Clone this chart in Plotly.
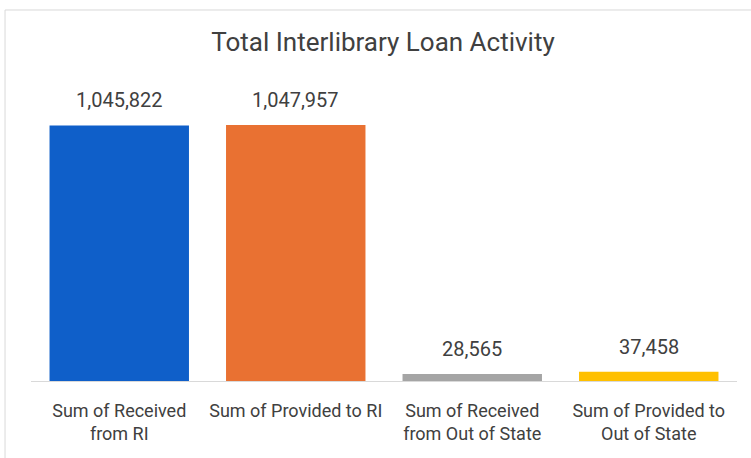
import plotly.graph_objects as go

categories = ["Sum of Received<br>from RI", "Sum of Provided to RI",
              "Sum of Received<br>from Out of State", "Sum of Provided to<br>Out of State"]
values = [1045822, 1047957, 28565, 37458]
colors = ["#0F5FC9", "#E97132", "#A5A5A5", "#FFC000"]
labels = [f"{v:,}" for v in values]

FONT = "Roboto"
TXT = "#404040"

fig = go.Figure(go.Bar(x=categories, y=values, marker=dict(color=colors, line=dict(width=0)),
                       hoverinfo="skip"))

for c, v, t in zip(categories, values, labels):
    fig.add_annotation(x=c, y=v, text=t, showarrow=False, yanchor="bottom", yshift=11,
                       font=dict(family=FONT, size=20, color=TXT))

fig.update_layout(
    width=751, height=458,
    margin=dict(l=31, r=14, t=80, b=77),
    paper_bgcolor="white", plot_bgcolor="white",
    bargap=0.21,
    showlegend=False,
    title=dict(text="Total Interlibrary Loan Activity", x=383 / 751, xanchor="center",
               y=1 - 42 / 458, yanchor="middle",
               font=dict(family=FONT, size=26, color=TXT)),
    xaxis=dict(showline=True, linecolor="#D9D9D9", linewidth=1, ticks="",
               ticklabelstandoff=13,
               tickfont=dict(family=FONT, size=18, color=TXT), showgrid=False,
               fixedrange=True),
    yaxis=dict(range=[0, 1232000], visible=False, showgrid=False, zeroline=False,
               fixedrange=True),
)

# outer chart border (partially visible in the crop)
fig.add_shape(type="rect", xref="paper", yref="paper",
              x0=-0.0368, x1=1.04, y0=-0.35, y1=1.2326,
              line=dict(color="#D9D9D9", width=1), fillcolor="rgba(0,0,0,0)", layer="below")

fig.write_html("out.html", config={"displayModeBar": False},
               post_script="document.body.style.margin='0';document.body.style.padding='0';")
